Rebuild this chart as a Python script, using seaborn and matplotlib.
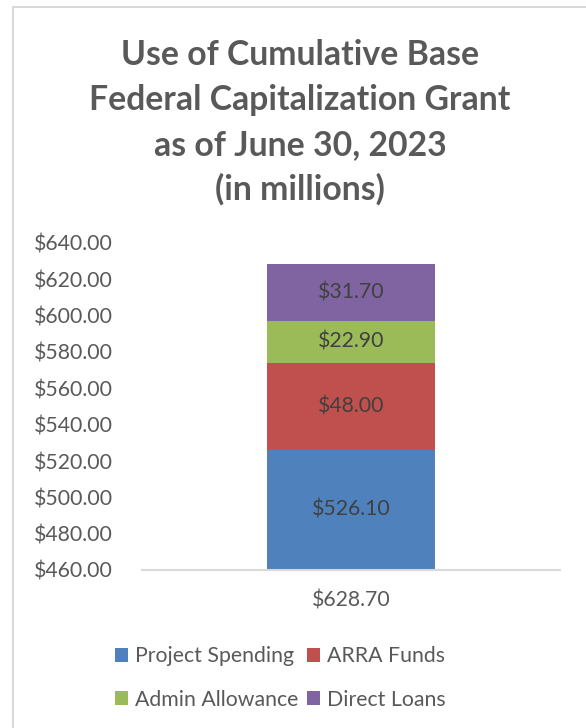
import numpy as np
import pandas as pd
import matplotlib
matplotlib.use("Agg")
import matplotlib.pyplot as plt
from matplotlib.patches import Rectangle, Patch
import seaborn as sns

# Cumulative base federal capitalization grant, in millions of dollars
categories = ["Project Spending", "ARRA Funds", "Admin Allowance", "Direct Loans"]
amounts = [526.10, 48.00, 22.90, 31.70]
colors = ["#4F81BD", "#C0504D", "#9BBB59", "#8064A2"]
total_label = "$628.70"
y_ticks = [460, 480, 500, 520, 540, 560, 580, 600, 620, 640]

sns.set_theme(style="white")
plt.rcParams["font.family"] = ["Lato", "DejaVu Sans"]

text_gray = "#595959"
label_gray = "#404040"
fs = 15.3

W, H = 586, 728
fig = plt.figure(figsize=(W / 100, H / 100), dpi=100)
ax = fig.add_axes([142 / W, 1 - 570 / H, 418 / W, 327 / H])

# Stack by drawing cumulative totals from the top segment down
tops = np.cumsum(amounts)
bottoms = tops - np.array(amounts)
for i in reversed(range(len(categories))):
    df = pd.DataFrame({"group": [total_label], "value": [tops[i]]})
    sns.barplot(data=df, x="group", y="value", color=colors[i],
                saturation=1, width=0.4, ax=ax, linewidth=0)

for i in range(len(categories)):
    lo = max(bottoms[i], y_ticks[0])
    ax.text(0, (lo + tops[i]) / 2, f"${amounts[i]:.2f}", ha="center",
            va="center", fontsize=fs, color=label_gray)

ax.set_ylim(y_ticks[0], y_ticks[-1])
ax.set_xlim(-0.5, 0.5)
ax.set_yticks(y_ticks)
ax.set_yticklabels([f"${v:.2f}" for v in y_ticks], fontsize=fs, color=text_gray)
ax.tick_params(axis="x", labelsize=fs, colors=text_gray, length=0, pad=15)
ax.tick_params(axis="y", length=0, pad=21)
ax.set_xlabel("")
ax.set_ylabel("")
for side in ["top", "right", "left"]:
    ax.spines[side].set_visible(False)
ax.spines["bottom"].set_color("#D9D9D9")
ax.spines["bottom"].set_linewidth(1.5)

title_lines = ["Use of Cumulative Base", "Federal Capitalization Grant",
               "as of June 30, 2023", "(in millions)"]
for k, line in enumerate(title_lines):
    fig.text(300 / W, 1 - (65 + 45 * k) / H, line, ha="center",
             va="baseline", fontsize=24.3, fontweight="bold", color=text_gray)

handles = [Patch(facecolor=c, edgecolor="none") for c in colors]
order = [0, 2, 1, 3]
fig.legend([handles[i] for i in order], [categories[i] for i in order],
           ncol=2, loc="center", bbox_to_anchor=(280 / W, 1 - 678 / H),
           frameon=False, fontsize=fs, labelcolor=text_gray,
           handlelength=0.65, handleheight=0.65, handletextpad=0.3,
           columnspacing=0.4, labelspacing=1.1)

# Chart area border
fig.patches.append(Rectangle((12.5 / W, -0.1), 1.0, 1.1 - 7 / H,
                             transform=fig.transFigure, fill=False,
                             edgecolor="#D9D9D9", linewidth=1.5))

fig.savefig("out.png", dpi=100)
